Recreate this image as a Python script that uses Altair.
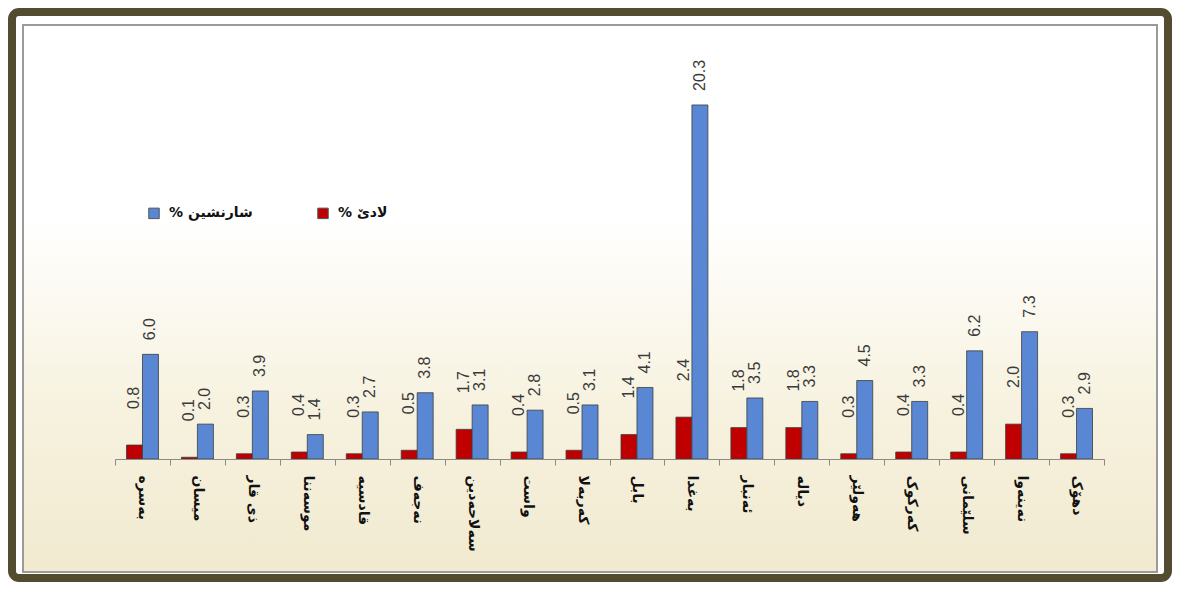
import altair as alt
import pandas as pd

categories = ["بەسرە", "میسان", "ذی قار", "موسەننا", "قادسیە", "نەجەف",
              "سەلاحەدین", "واست", "کەربەلا", "بابل", "بەغدا", "ئەنبار",
              "دیالە", "هەولێر", "کەرکوک", "سلێمانی", "نەینەوا", "دهۆک"]
rural = [0.8, 0.1, 0.3, 0.4, 0.3, 0.5, 1.7, 0.4, 0.5, 1.4, 2.4, 1.8, 1.8, 0.3, 0.4, 0.4, 2.0, 0.3]
urban = [6.0, 2.0, 3.9, 1.4, 2.7, 3.8, 3.1, 2.8, 3.1, 4.1, 20.3, 3.5, 3.3, 4.5, 3.3, 6.2, 7.3, 2.9]
series_rural = "% لادێ"
series_urban = "% شارنشین"

rows = []
for c, r, u in zip(categories, rural, urban):
    rows.append({"cat": c, "series": series_rural, "value": r})
    rows.append({"cat": c, "series": series_urban, "value": u})
df = pd.DataFrame(rows)

W, H = 989, 436
PL, PT, PR, PB = 107, 15, 68, 123
one = alt.Data(values=[{"a": 1}])

grad = alt.LinearGradient(
    gradient="linear", x1=0, x2=0, y1=0, y2=1,
    stops=[alt.GradientStop(color="#ffffff", offset=0),
           alt.GradientStop(color="#ffffff", offset=0.35),
           alt.GradientStop(color="#f7f2df", offset=0.7),
           alt.GradientStop(color="#f1ead0", offset=1)])

panel = alt.Chart(one).mark_rect(fill=grad, stroke="#9a9a9a", strokeWidth=2).encode(
    x=alt.value(-PL + 15), x2=alt.value(W + PR - 15),
    y=alt.value(-PT + 17), y2=alt.value(H + PB - 10))
inner_white = alt.Chart(one).mark_rect(fillOpacity=0, stroke="#ffffff", strokeWidth=3).encode(
    x=alt.value(-PL + 11), x2=alt.value(W + PR - 11),
    y=alt.value(-PT + 12), y2=alt.value(H + PB - 6))
border = alt.Chart(one).mark_rect(fillOpacity=0, stroke="#544c31", strokeWidth=8, cornerRadius=7).encode(
    x=alt.value(-PL + 4), x2=alt.value(W + PR - 4),
    y=alt.value(-PT + 4), y2=alt.value(H + PB - 4))

xenc = alt.X("cat:N", sort=categories,
             scale=alt.Scale(paddingInner=0, paddingOuter=0),
             axis=alt.Axis(title=None, labelAngle=90, labelFont="DejaVu Sans",
                           labelFontWeight="bold", labelFontSize=14, labelColor="#111111",
                           tickBand="extent", tickSize=6, tickColor="#8a8a8a",
                           domainColor="#8a8a8a", labelPadding=10, zindex=1))
xoff = alt.XOffset("series:N", sort=[series_rural, series_urban],
                   scale=alt.Scale(domain=[series_rural, series_urban],
                                   paddingInner=0, paddingOuter=0.71875))
yenc = alt.Y("value:Q", scale=alt.Scale(domain=[0, 25]), axis=None)

base = alt.Chart(df)
bars = base.mark_bar(stroke="#3d3d3d", strokeWidth=0.8).encode(
    x=xenc, xOffset=xoff, y=yenc,
    color=alt.Color("series:N",
                    scale=alt.Scale(domain=[series_urban, series_rural],
                                    range=["#5a87d3", "#c00000"]),
                    legend=alt.Legend(title=None, orient="none", legendX=32, legendY=183,
                                      direction="horizontal", symbolType="square",
                                      symbolSize=110, symbolStrokeColor="#555555",
                                      symbolStrokeWidth=1, labelFont="DejaVu Sans",
                                      labelFontWeight="bold", labelFontSize=14,
                                      labelColor="#111111", columnPadding=62,
                                      labelOffset=8)))

txt_kw = dict(angle=270, align="left", baseline="middle", font="Liberation Sans",
              fontSize=16, color="#3a3a3a")
lab_u = base.transform_filter(alt.datum.series == series_urban).mark_text(dx=14, **txt_kw).encode(
    x=xenc, xOffset=xoff, y=yenc, text=alt.Text("value:Q", format=".1f"))
lab_r = base.transform_filter(alt.datum.series == series_rural).mark_text(dx=36, **txt_kw).encode(
    x=xenc, xOffset=xoff, y=yenc, text=alt.Text("value:Q", format=".1f"))

chart = alt.layer(panel, inner_white, border, bars, lab_u, lab_r).properties(
    width=W, height=H,
    autosize=alt.AutoSizeParams(type="none"),
    padding={"left": PL, "top": PT, "right": PR, "bottom": PB},
    background="#ffffff"
).configure_view(stroke=None)

chart.save("out.html", embed_options={"renderer": "svg", "actions": False})
